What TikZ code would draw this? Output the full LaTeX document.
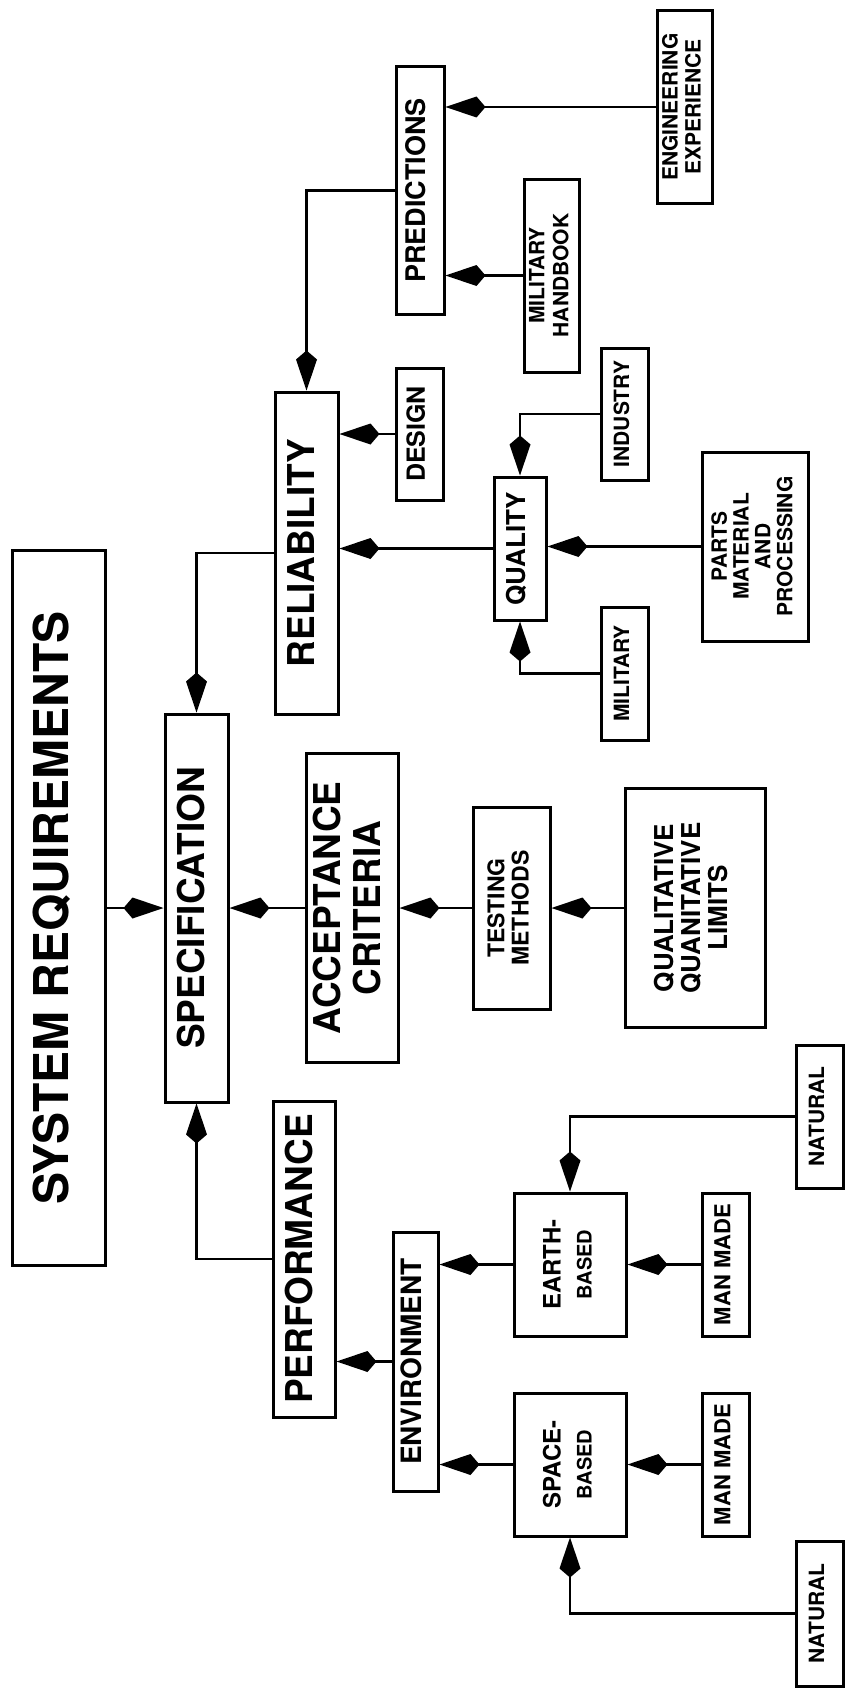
\documentclass[tikz,border=0pt]{standalone}
\usepackage{fontspec}
\setmainfont{TeX Gyre Heros}
\usepackage{graphicx}
\usetikzlibrary{arrows.meta}
% rotated, centred block of lines: size, line skip, lines
\newcommand\vlabel[3]{\rotatebox{90}{\fontsize{#1}{#2}\selectfont\begin{tabular}{@{}c@{}}#3\end{tabular}}}
\begin{document}
\begin{tikzpicture}[x=1pt,y=-1pt,
  box/.style={draw, line width=3pt, inner sep=0pt, font=\bfseries},
  link/.style={line width=2.4pt, -{Kite[length=40pt,width=21pt,inset=9pt]}},
]
\useasboundingbox (0,0) rectangle (845,1691);

% main row
\node[box, minimum width=93pt,  minimum height=715pt] (sys)  at (58.5,908)  {\vlabel{48}{52}{SYSTEM REQUIREMENTS}};
\node[box, minimum width=63pt,  minimum height=388pt] (spec) at (196.5,908) {\vlabel{37}{40}{SPECIFICATION}};
\node[box, minimum width=92pt,  minimum height=309pt] (acc)  at (352,908)   {\vlabel{37}{40}{ACCEPTANCE\\CRITERIA}};
\node[box, minimum width=77pt,  minimum height=202pt] (test) at (511.5,908) {\vlabel{23}{24}{TESTING\\METHODS}};
\node[box, minimum width=140pt, minimum height=239pt] (qlim) at (695,908)   {\vlabel{26}{27}{QUALITATIVE\\QUANITATIVE\\LIMITS}};

% reliability branch
\node[box, minimum width=63pt,  minimum height=322pt] (rel)    at (306.5,553) {\vlabel{37}{40}{RELIABILITY}};
\node[box, minimum width=48pt,  minimum height=247pt] (pred)   at (420,190.5) {\vlabel{27}{29}{PREDICTIONS}};
\node[box, minimum width=55pt,  minimum height=192pt] (eng)    at (684.5,107) {\vlabel{21}{23}{ENGINEERING\\EXPERIENCE}};
\node[box, minimum width=55pt,  minimum height=193pt] (milh)   at (551.5,275.5) {\vlabel{21}{24}{MILITARY\\HANDBOOK}};
\node[box, minimum width=47pt,  minimum height=132pt] (design) at (419.5,434) {\vlabel{25}{27}{DESIGN}};
\node[box, minimum width=52pt,  minimum height=143pt] (qual)   at (520,548.5) {\vlabel{26}{28}{QUALITY}};
\node[box, minimum width=47pt,  minimum height=132pt] (ind)    at (624.5,414) {\vlabel{21}{23}{INDUSTRY}};
\node[box, minimum width=106pt, minimum height=189pt] (parts)  at (755,546.5) {\vlabel{21}{21.5}{PARTS\\MATERIAL\\AND\\PROCESSING}};
\node[box, minimum width=47pt,  minimum height=133pt] (mil)    at (624.5,673.5) {\vlabel{21}{23}{MILITARY}};

% performance branch
\node[box, minimum width=62pt,  minimum height=316pt] (perf)  at (304,1259)    {\vlabel{37}{40}{PERFORMANCE}};
\node[box, minimum width=45pt,  minimum height=259pt] (env)   at (415.5,1361.5) {\vlabel{28}{30}{ENVIRONMENT}};
\node[box, minimum width=112pt, minimum height=143pt] (earth) at (570,1264.5)  {\vlabel{20}{31}{{\fontsize{24}{31}\selectfont EARTH-}\\BASED}};
\node[box, minimum width=112pt, minimum height=143pt] (space) at (570,1464.5)  {\vlabel{20}{31}{{\fontsize{24}{31}\selectfont SPACE-}\\BASED}};
\node[box, minimum width=47pt,  minimum height=143pt] (mm1)   at (725.5,1264.5) {\vlabel{22}{24}{MAN MADE}};
\node[box, minimum width=47pt,  minimum height=143pt] (mm2)   at (725.5,1464.5) {\vlabel{22}{24}{MAN MADE}};
\node[box, minimum width=47pt,  minimum height=143pt] (nat1)  at (819.5,1116.5) {\vlabel{21}{23}{NATURAL}};
\node[box, minimum width=47pt,  minimum height=145pt] (nat2)  at (819.5,1613.5) {\vlabel{21}{23}{NATURAL}};

% connectors into the specification
\draw[link] (sys.east) -- (spec.west);
\draw[link] (acc.west) -- (spec.east);
\draw[link] (test.west) -- (acc.east);
\draw[link] (qlim.west) -- (test.east);
\draw[link] (rel.west) -| (spec.north);
\draw[link] (perf.west) -| (spec.south);

% reliability inputs
\draw[link] (pred.west) -| (rel.north);
\draw[link] (eng.west) -- (pred.east |- eng.west);
\draw[link] (milh.west) -- (pred.east |- milh.west);
\draw[link] (design.west) -- (rel.east |- design.west);
\draw[link] (qual.west) -- (rel.east |- qual.west);
\draw[link] (ind.west) -| (qual.north);
\draw[link] (mil.west) -| (qual.south);
\draw[link] (parts.west) -- (qual.east |- parts.west);

% performance inputs
\draw[link] (env.west) -- (perf.east |- env.west);
\draw[link] (earth.west) -- (env.east |- earth.west);
\draw[link] (space.west) -- (env.east |- space.west);
\draw[link] (mm1.west) -- (earth.east |- mm1.west);
\draw[link] (mm2.west) -- (space.east |- mm2.west);
\draw[link] (nat1.west) -| (earth.north);
\draw[link] (nat2.west) -| (space.south);
\end{tikzpicture}
\end{document}
